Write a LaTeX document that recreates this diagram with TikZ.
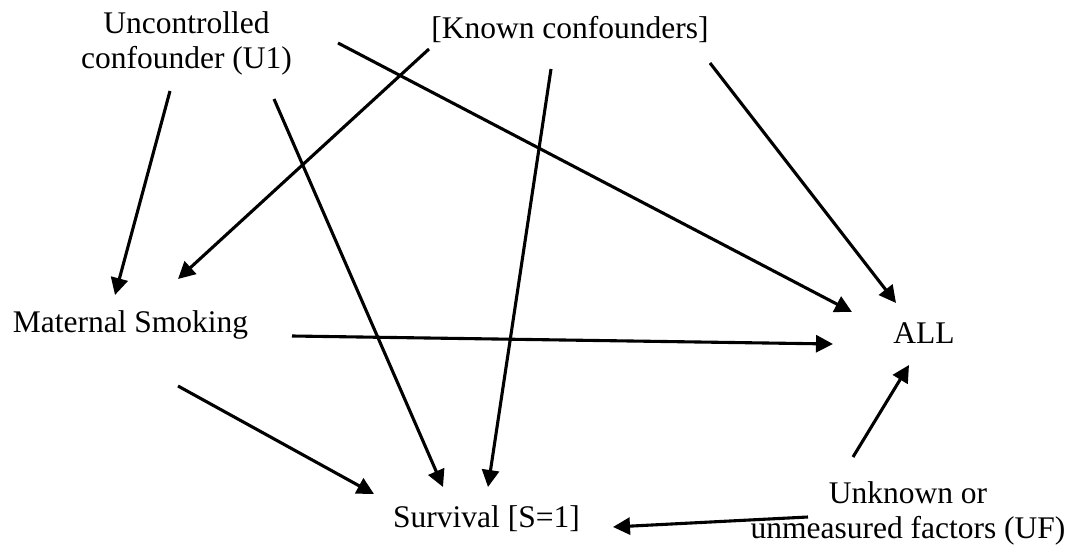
\documentclass[tikz,border=0pt]{standalone}
\usepackage{fontspec}
\setmainfont{Liberation Serif}
\usetikzlibrary{arrows.meta}

\begin{document}
\begin{tikzpicture}[x=1pt, y=-1pt,
  every node/.style={inner sep=0pt, anchor=base, align=center,
    font=\fontsize{31.5}{35}\selectfont},
  arr/.style={line width=3.1pt, -{Triangle[length=17pt, width=17pt]}}]
  \useasboundingbox (0,0) rectangle (1074,553);

  \node (U1) at (186.5,68.3) {Uncontrolled\\confounder (U1)};
  \node (K) at (570,39) {[Known confounders]};
  \node (M) at (130.5,333) {Maternal Smoking};
  \node (A) at (924,344) {ALL};
  \node (S) at (486.5,527) {Survival [S=1]};
  \node (UF) at (908,538) {Unknown or\\unmeasured factors (UF)};

  \draw[arr] ([shift={(-16.5,22.7)}]U1.base) -- ([shift={(-15.5,-38)}]M.base);
  \draw[arr] ([shift={(87.5,30.7)}]U1.base) -- ([shift={(-43.5,-40)}]S.base);
  \draw[arr] ([shift={(151.5,-25.3)}]U1.base) -- ([shift={(-72,-32)}]A.base);

  \draw[arr] ([shift={(-141,10)}]K.base) -- ([shift={(47.5,-54)}]M.base);
  \draw[arr] ([shift={(-19,30)}]K.base) -- ([shift={(1.5,-40)}]S.base);
  \draw[arr] ([shift={(140,24)}]K.base) -- ([shift={(-28,-41)}]A.base);

  \draw[arr] ([shift={(161.5,3)}]M.base) -- ([shift={(-91,0)}]A.base);
  \draw[arr] ([shift={(47.5,53)}]M.base) -- ([shift={(-112.5,-33)}]S.base);

  \draw[arr] ([shift={(-100,-21)}]UF.base) -- ([shift={(126.5,0)}]S.base);
  \draw[arr] ([shift={(-55,-81)}]UF.base) -- ([shift={(-15,21)}]A.base);
\end{tikzpicture}
\end{document}
